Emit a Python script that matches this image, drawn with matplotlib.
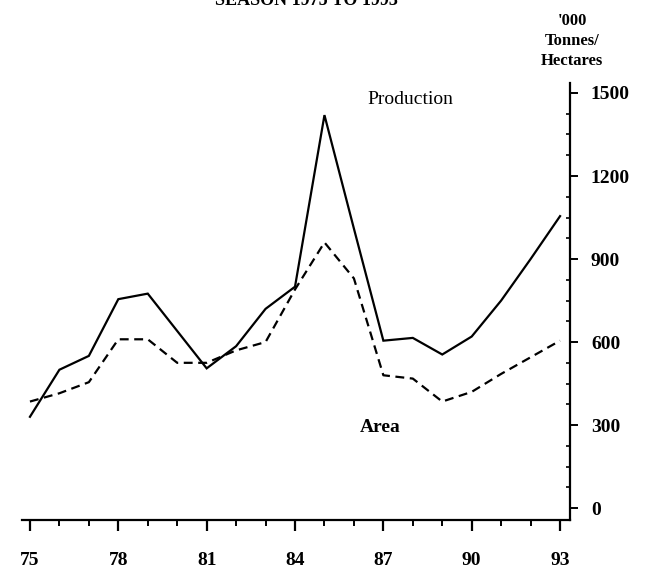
import numpy as np
from matplotlib import pyplot as plt
from matplotlib.ticker import MultipleLocator

# season years (19xx) and values, '000 tonnes / hectares
years = [75, 76, 77, 78, 79, 80, 81, 82, 83, 84, 85, 86, 87, 88, 89, 90, 91, 92, 93]
production = [330, 500, 550, 755, 775, 640, 505, 585, 720, 800, 1420, 1010,
              605, 615, 555, 620, 750, 900, 1055]
area = [385, 415, 455, 610, 610, 525, 525, 570, 600, 790, 960, 830,
        480, 468, 385, 420, 485, 545, 605]

x_ticks = [75, 78, 81, 84, 87, 90, 93]
y_ticks = [0, 300, 600, 900, 1200, 1500]

plt.rcParams['font.family'] = ['Liberation Serif', 'DejaVu Serif']

fig = plt.figure(figsize=(6.53, 5.69), dpi=100)
ax = fig.add_axes([0.0337, 0.0861, 0.8393, 0.7680])

ax.plot(years, production, color='black', lw=1.6, solid_joinstyle='miter')
ax.plot(years, area, color='black', lw=1.6, ls=(0, (4, 2.5)))

ax.set_xlim(74.73, 93.34)
ax.set_ylim(-43, 1536)

# only bottom and right axis lines
for side in ['top', 'left']:
    ax.spines[side].set_visible(False)
for side in ['bottom', 'right']:
    ax.spines[side].set_linewidth(1.6)

ax.yaxis.tick_right()
ax.set_xticks(x_ticks)
ax.set_xticklabels([str(v) for v in x_ticks], fontsize=14, fontweight='bold')
ax.xaxis.set_minor_locator(MultipleLocator(1))
ax.set_yticks(y_ticks)
ax.set_yticklabels([str(v) for v in y_ticks], fontsize=14, fontweight='bold')
ax.yaxis.set_minor_locator(MultipleLocator(75))

ax.tick_params(axis='x', which='major', direction='out', length=8, width=1.6, pad=15)
ax.tick_params(axis='x', which='minor', direction='out', length=4, width=1.4)
ax.tick_params(axis='y', which='major', direction='out', length=6, width=1.4, pad=9)
ax.tick_params(axis='y', which='minor', direction='in', length=3, width=1.2)

ax.text(87.9, 1475, 'Production', fontsize=14, ha='center', va='center')
ax.text(86.9, 293, 'Area', fontsize=14, ha='center', va='center', fontweight='bold')

fig.text(0.876, 0.878, "'000\nTonnes/\nHectares", fontsize=12, ha='center', va='bottom',
         fontweight='bold', linespacing=1.35)
fig.text(0.47, 0.991, 'SEASON 1975 TO 1993', fontsize=13, ha='center', va='baseline',
         fontweight='bold')

plt.savefig('out.png', dpi=100)
